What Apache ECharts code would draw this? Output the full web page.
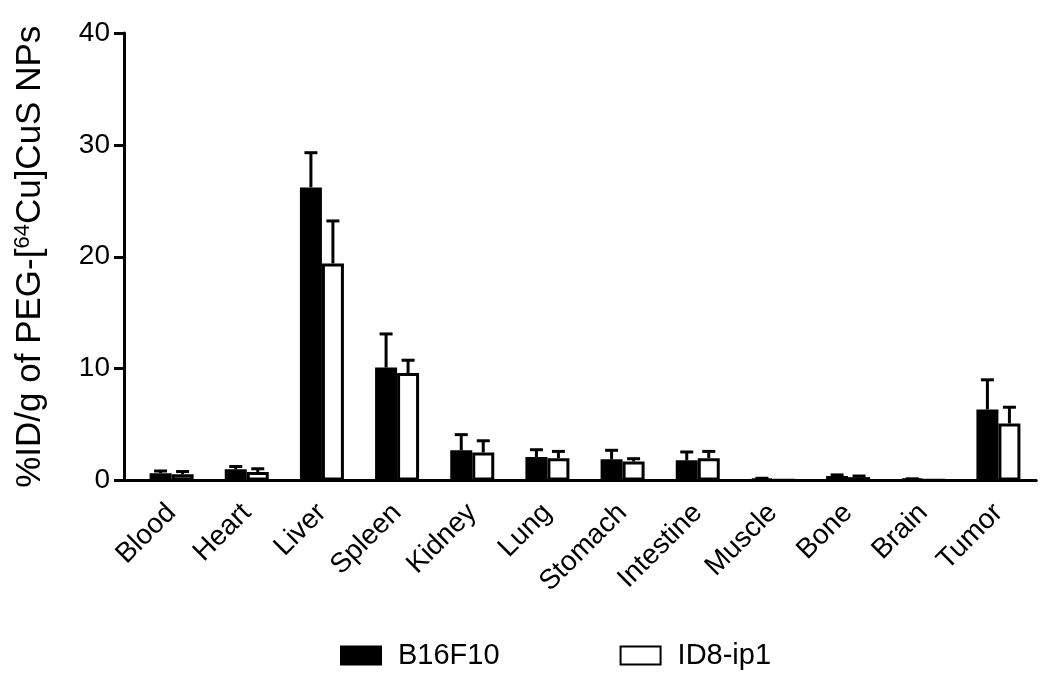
<!DOCTYPE html>
<html><head><meta charset="utf-8">
<script src="https://cdn.jsdelivr.net/npm/echarts@6/dist/echarts.min.js"></script>
<style>html,body{margin:0;padding:0;background:#fff}#c{width:1050px;height:678px}</style>
</head><body><div id="c"></div>
<script>
const categories = ['Blood','Heart','Liver','Spleen','Kidney','Lung','Stomach','Intestine','Muscle','Bone','Brain','Tumor'];
const b16f10 = [0.65, 1.0, 26.2, 10.1, 2.7, 2.1, 1.9, 1.8, 0.15, 0.4, 0.12, 6.35];
const b16f10Err = [0.2, 0.25, 3.1, 3.0, 1.4, 0.65, 0.8, 0.75, 0.05, 0.1, 0.03, 2.65];
const id8 = [0.55, 0.75, 19.4, 9.6, 2.5, 2.0, 1.7, 2.0, 0.03, 0.3, 0.03, 5.1];
const id8Err = [0.25, 0.3, 3.8, 1.15, 1.05, 0.6, 0.25, 0.6, 0, 0.1, 0, 1.45];
const yTicks = [0, 10, 20, 30, 40];

const FONT = 'Liberation Sans, Arial, sans-serif';
const BAR_W = 22;
function errSeries(vals, errs, dir, name) {
  return {
    type: 'custom', name: name + ' err', z: 5, silent: true,
    data: vals.map((v, i) => [i, v, errs[i]]),
    renderItem(params, api) {
      const i = api.value(0), v = api.value(1), e = api.value(2);
      if (!e) return null;
      const p0 = api.coord([i, v]);
      const p1 = api.coord([i, v + e]);
      const x = p0[0] + dir * BAR_W / 2;
      return { type: 'group', children: [
        { type: 'line', shape: { x1: x, y1: p0[1], x2: x, y2: p1[1] }, style: { stroke: '#000', lineWidth: 3 } },
        { type: 'line', shape: { x1: x - 6.5, y1: p1[1], x2: x + 6.5, y2: p1[1] }, style: { stroke: '#000', lineWidth: 3 } }
      ]};
    }
  };
}
const chart = echarts.init(document.getElementById('c'));
chart.setOption({
  animation: false,
  textStyle: { fontFamily: FONT, color: '#000' },
  grid: [
    { left: 134, right: 14, top: 33, bottom: 197.5 },
    { left: 124, right: 14, top: 33, bottom: 197.5 }
  ],
  legend: {
    top: 636, left: 335, itemWidth: 40, itemHeight: 18, itemGap: 120, icon: 'rect',
    textStyle: { fontSize: 29, fontFamily: FONT, color: '#000', padding: [0, 0, 0, 12] },
    data: ['B16F10', 'ID8-ip1']
  },
  xAxis: [{
    type: 'category', data: categories, gridIndex: 0,
    axisLine: { lineStyle: { color: '#000', width: 3 } },
    axisTick: { alignWithLabel: true, length: 9, lineStyle: { color: '#000', width: 3 } },
    axisLabel: { rotate: 45, fontSize: 28, fontFamily: FONT, color: '#000', margin: 28 }
  }, {
    type: 'value', gridIndex: 1, min: 0, max: 1,
    axisLine: { show: true, lineStyle: { color: '#000', width: 3 } },
    axisTick: { show: false }, axisLabel: { show: false }, splitLine: { show: false }
  }],
  yAxis: [{
    type: 'value', min: 0, max: 40, interval: 10, gridIndex: 0, offset: 10,
    name: '%ID/g of PEG-[{sup|64}Cu]CuS NPs', nameLocation: 'middle', nameGap: 76,
    nameTextStyle: { fontSize: 35, fontFamily: FONT, color: '#000',
      rich: { sup: { fontSize: 22, fontFamily: FONT, color: '#000', padding: [0, 0, 14, 0] } } },
    axisLine: { show: true, lineStyle: { color: '#000', width: 3 } },
    axisTick: { show: true, length: 10, lineStyle: { color: '#000', width: 3 } },
    axisLabel: { fontSize: 28, fontFamily: FONT, color: '#000', margin: 14,
      formatter: v => yTicks.includes(v) ? String(v) : '' },
    splitLine: { show: false }
  }, {
    type: 'value', gridIndex: 1, show: false, min: 0, max: 1
  }],
  series: [
    { name: 'B16F10', type: 'bar', data: b16f10, barWidth: BAR_W, barGap: '0%',
      itemStyle: { color: '#000', borderColor: '#000', borderWidth: 3 } },
    { name: 'ID8-ip1', type: 'bar', data: id8, barWidth: BAR_W, barGap: '0%',
      itemStyle: { color: '#fff', borderColor: '#000', borderWidth: 3 } },
    errSeries(b16f10, b16f10Err, -1, 'B16F10'),
    errSeries(id8, id8Err, 1, 'ID8-ip1')
  ]
});
</script></body></html>
